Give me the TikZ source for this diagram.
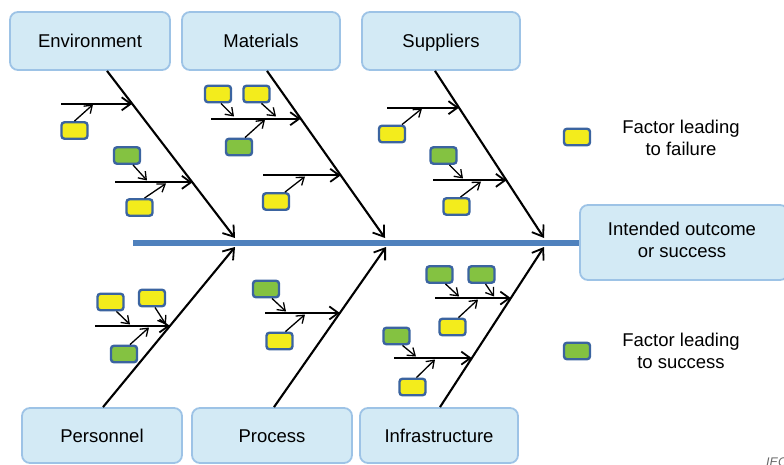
\documentclass[tikz,border=0pt]{standalone}
\usepackage{fontspec}
\setmainfont{Liberation Sans}
\usetikzlibrary{arrows.meta,calc}
\definecolor{catfill}{HTML}{D3EAF5}
\definecolor{catline}{HTML}{9DC3E6}
\definecolor{spineblue}{HTML}{4F81BD}
\definecolor{boxedge}{HTML}{3B64A0}
\definecolor{failyel}{HTML}{F3EC1C}
\definecolor{succgrn}{HTML}{84C241}
\tikzset{
  catbox/.style={draw=catline, fill=catfill, line width=1.8pt, rounded corners=8pt,
    minimum height=58pt, inner sep=0pt, align=center,
    font=\fontsize{18.5}{22}\selectfont},
  cattext/.style={text height=13.2pt, text depth=0pt},
  failbox/.style={draw=boxedge, fill=failyel, line width=2.4pt, rounded corners=3pt,
    minimum width=26pt, minimum height=16.5pt, inner sep=0pt},
  succbox/.style={failbox, fill=succgrn},
  bone/.style={line width=2.1pt, -{Straight Barb[length=10pt,width=14pt,line width=1.8pt]}},
  rib/.style={line width=2.1pt, -{Straight Barb[length=9pt,width=13pt,line width=1.8pt]}},
  twig/.style={line width=1.3pt, -{Straight Barb[length=7pt,width=10pt,line width=1.3pt]}},
  spine/.style={draw=spineblue, line width=6pt},
  legtext/.style={align=center, font=\fontsize{18.5}{22.5}\selectfont}
}
\begin{document}
\begin{tikzpicture}[x=1pt,y=-1pt]
\useasboundingbox (0,0) rectangle (784,465);

% category boxes
\node[catbox, cattext, minimum width=160pt] (env) at (90,41) {Environment};
\node[catbox, cattext, minimum width=158pt] (mat) at (261,41) {Materials};
\node[catbox, cattext, minimum width=158pt] (sup) at (441,41) {Suppliers};
\node[catbox, cattext, minimum width=160pt, minimum height=55pt] (per) at (102,435.5) {Personnel};
\node[catbox, cattext, minimum width=160pt, minimum height=55pt] (pro) at (272,435.5) {Process};
\node[catbox, cattext, minimum width=158pt, minimum height=55pt] (inf) at (439,435.5) {Infrastructure};
\node[catbox, minimum width=208pt, minimum height=75pt] (out) at (684,242.5) {};
\node[legtext] (outt) at (682,240) {Intended outcome\\or success};

% spine
\coordinate (spineL) at (133,242.5);
\draw[spine] (spineL) -- (out.west);

% main bones
\coordinate (envS) at ([xshift=17pt]env.south);
\coordinate (matS) at ([xshift=6pt]mat.south);
\coordinate (supS) at ([xshift=-6pt]sup.south);
\coordinate (perS) at ([xshift=1pt]per.north);
\coordinate (proS) at ([xshift=2pt]pro.north);
\coordinate (infS) at ([xshift=1pt]inf.north);
\coordinate (envT) at (235,238);
\coordinate (matT) at (385,238);
\coordinate (supT) at (544,238);
\coordinate (perT) at (235,247);
\coordinate (proT) at (386,247);
\coordinate (infT) at (544,247);
\foreach \b in {env,mat,sup,per,pro,inf}
  \draw[bone] (\b S) -- (\b T);

% points where the ribs meet the bones
\coordinate (e1) at ($(envS)!0.197!(envT)$);
\coordinate (e2) at ($(envS)!0.667!(envT)$);
\coordinate (m1) at ($(matS)!0.286!(matT)$);
\coordinate (m2) at ($(matS)!0.625!(matT)$);
\coordinate (s1) at ($(supS)!0.220!(supT)$);
\coordinate (s2) at ($(supS)!0.655!(supT)$);
\coordinate (p1) at ($(perS)!0.507!(perT)$);
\coordinate (r1) at ($(proS)!0.588!(proT)$);
\coordinate (i1) at ($(infS)!0.681!(infT)$);
\coordinate (i2) at ($(infS)!0.306!(infT)$);

% ribs
\draw[rib] (e1 -| 61,0) coordinate (e1L) -- (e1);
\draw[rib] (e2 -| 115,0) coordinate (e2L) -- (e2);
\draw[rib] (m1 -| 211,0) coordinate (m1L) -- (m1);
\draw[rib] (m2 -| 263,0) coordinate (m2L) -- (m2);
\draw[rib] (s1 -| 387,0) coordinate (s1L) -- (s1);
\draw[rib] (s2 -| 433,0) coordinate (s2L) -- (s2);
\draw[rib] (p1 -| 95,0) coordinate (p1L) -- (p1);
\draw[rib] (r1 -| 265,0) coordinate (r1L) -- (r1);
\draw[rib] (i1 -| 435,0) coordinate (i1L) -- (i1);
\draw[rib] (i2 -| 394,0) coordinate (i2L) -- (i2);

% factor boxes
\node[failbox] (ey1) at (74.5,130.5) {};
\node[succbox] (eg1) at (127,155.5) {};
\node[failbox] (ey2) at (139.5,207.5) {};
\node[failbox] (my1) at (218,94) {};
\node[failbox] (my2) at (256.5,94) {};
\node[succbox] (mg1) at (239,147) {};
\node[failbox] (my3) at (276,201.5) {};
\node[failbox] (sy1) at (392,134) {};
\node[succbox] (sg1) at (443.5,155.5) {};
\node[failbox] (sy2) at (456.5,206.5) {};
\node[failbox] (py1) at (110.5,302) {};
\node[failbox] (py2) at (152,298) {};
\node[succbox] (pg1) at (124,354) {};
\node[succbox] (rg1) at (266,289) {};
\node[failbox] (ry1) at (279.5,341) {};
\node[succbox] (ig1) at (439.5,274.5) {};
\node[succbox] (ig2) at (481.5,274.5) {};
\node[failbox] (iy1) at (452.5,327) {};
\node[succbox] (ig3) at (396.5,336) {};
\node[failbox] (iy2) at (412.5,387) {};

% twigs from factors to ribs
\coordinate (ea1) at (93,104.5);   \draw[twig] (ey1.north) -- (ea1);
\coordinate (ea2) at (147,180.5);  \draw[twig] ($(eg1.south)+(6,0)$) -- (ea2);
\coordinate (ea3) at (166,183.5);  \draw[twig] ($(ey2.north)+(5,0)$) -- (ea3);
\coordinate (ma1) at (234,116.5);  \draw[twig] ($(my1.south)+(3,0)$) -- (ma1);
\coordinate (ma2) at (276,116.5);  \draw[twig] ($(my2.south)+(5,0)$) -- (ma2);
\coordinate (ma3) at (265,119.5);  \draw[twig] ($(mg1.north)+(6,0)$) -- (ma3);
\coordinate (ma4) at (305,176.5);  \draw[twig] ($(my3.north)+(9,0)$) -- (ma4);
\coordinate (sa1) at (422,108.5);  \draw[twig] ($(sy1.north)+(10,0)$) -- (sa1);
\coordinate (sa2) at (463,178.5);  \draw[twig] ($(sg1.south)+(6,0)$) -- (sa2);
\coordinate (sa3) at (481,181.5);  \draw[twig] ($(sy2.north)+(4,0)$) -- (sa3);
\coordinate (pa1) at (130,324.5);  \draw[twig] ($(py1.south)+(6,0)$) -- (pa1);
\coordinate (pa2) at (166,324.5);  \draw[twig] ($(py2.south)+(3,0)$) -- (pa2);
\coordinate (pa3) at (149,327.5);  \draw[twig] ($(pg1.north)+(6,0)$) -- (pa3);
\coordinate (ra1) at (286,311.5);  \draw[twig] ($(rg1.south)+(6,0)$) -- (ra1);
\coordinate (ra2) at (305,314.5);  \draw[twig] ($(ry1.north)+(6,0)$) -- (ra2);
\coordinate (ia1) at (459,296.5);  \draw[twig] ($(ig1.south)+(6,0)$) -- (ia1);
\coordinate (ia2) at (494,296.5);  \draw[twig] ($(ig2.south)+(4,0)$) -- (ia2);
\coordinate (ia3) at (478,299.5);  \draw[twig] ($(iy1.north)+(6,0)$) -- (ia3);
\coordinate (ia4) at (416,356.5);  \draw[twig] ($(ig3.south)+(6,0)$) -- (ia4);
\coordinate (ia5) at (435,359.5);  \draw[twig] ($(iy2.north)+(4,0)$) -- (ia5);

% legend
\node[failbox] (legF) at (577,137) {};
\node[legtext] (legFt) at (681,138) {Factor leading\\to failure};
\node[succbox] (legS) at (577,351) {};
\node[legtext] (legSt) at (681,351) {Factor leading\\to success};

% source mark
\node[anchor=base west, inner sep=0pt, text=black!60,
      font=\fontsize{12.5}{14}\selectfont\itshape] (src) at (766,466) {IEC};
\end{tikzpicture}
\end{document}
